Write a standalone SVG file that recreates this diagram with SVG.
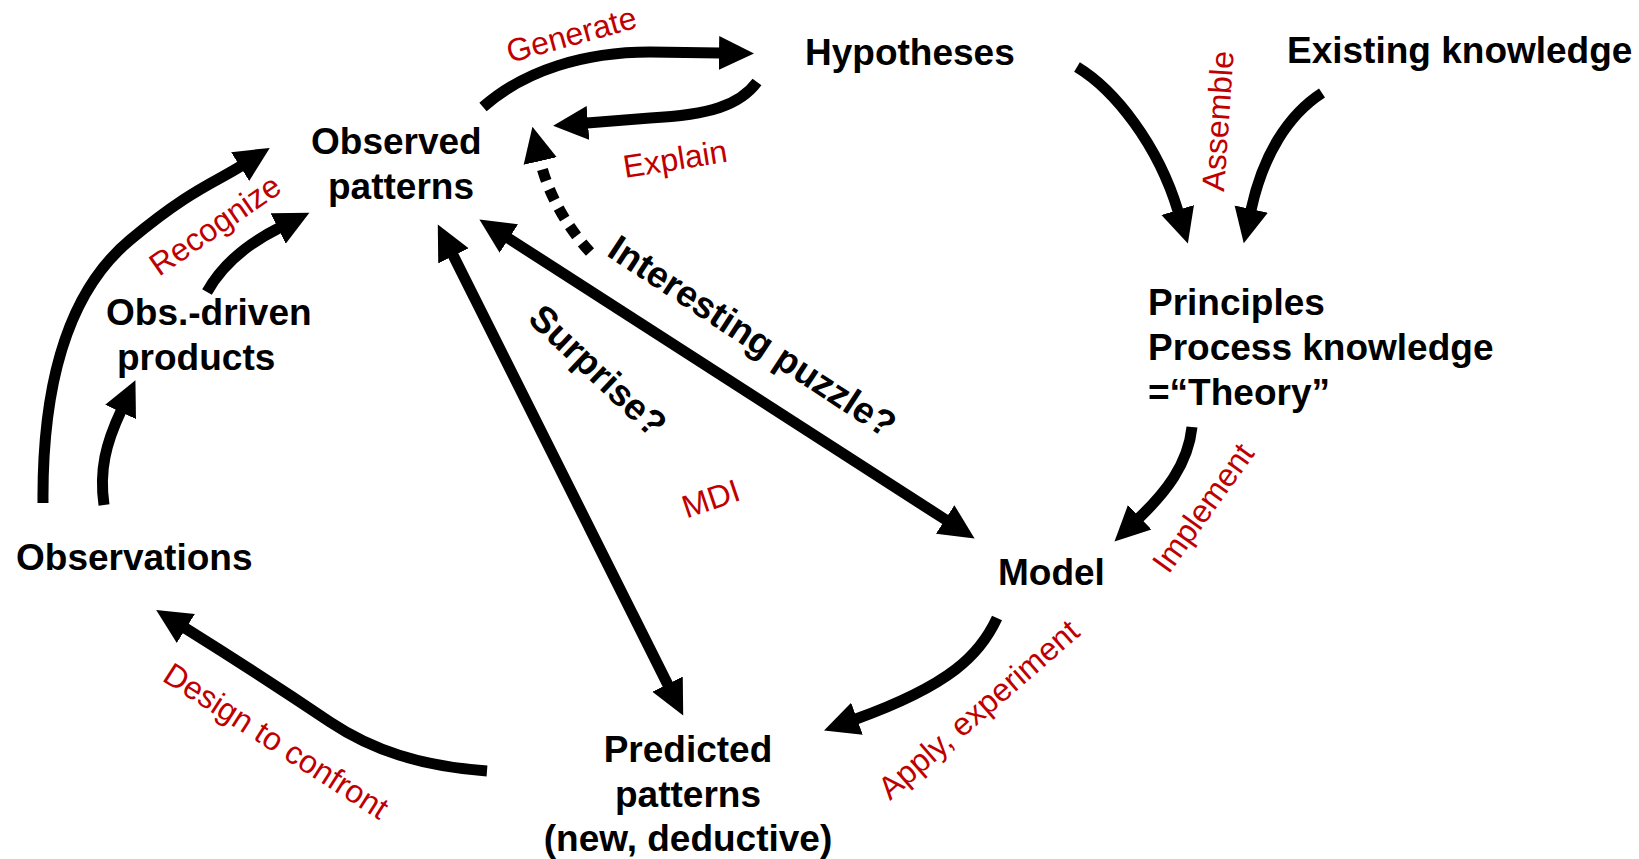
<svg xmlns="http://www.w3.org/2000/svg" width="1639" height="859" viewBox="0 0 1639 859">
  <style>
    .node { font-family: "Liberation Sans", Arial, sans-serif; font-weight: bold; font-size: 37px; fill: #000; }
    .tag { font-family: "Liberation Sans", Arial, sans-serif; font-weight: bold; font-size: 37px; fill: #000; }
    .verb { font-family: "Liberation Sans", Arial, sans-serif; font-size: 32px; fill: #C00000; }
    .link { fill: none; stroke: #000; stroke-width: 11; marker-end: url(#head); }
    .both { marker-start: url(#head); }
    .dots { stroke-dasharray: 12 9; }
  </style>
  <defs>
    <marker id="head" viewBox="0 -18 36 36" refX="1" refY="0" markerWidth="36" markerHeight="36" markerUnits="userSpaceOnUse" orient="auto-start-reverse">
      <path d="M0,-17 L35,0 L0,17 Z" fill="#000"/>
    </marker>
  </defs>
  <rect width="1639" height="859" fill="#fff"/>

  <!-- connectors -->
  <g id="connectors">
    <path class="link" d="M43,503 C42,380 70,290 130,240 S214,183 241,166"/>
    <path class="link" d="M104,505 C99,470 106,443 121,411"/>
    <path class="link" d="M207,292 C222,265 245,245 279,228"/>
    <path class="link" d="M483,107 C525,70 585,52 650,52 L720,53"/>
    <path class="link" d="M757,82 C740,105 710,115 650,118 L587,123"/>
    <path class="link dots" d="M590,252 C568,228 548,195 540,160"/>
    <path class="link both" d="M508,238 L946,520"/>
    <path class="link both" d="M453,255 L668,685"/>
    <path class="link" d="M1077,67 C1115,90 1158,145 1178,211"/>
    <path class="link" d="M1322,93 C1288,115 1263,155 1251,210"/>
    <path class="link" d="M1192,427 C1188,465 1165,493 1139,518"/>
    <path class="link" d="M997,618 C980,655 950,685 856,719"/>
    <path class="link" d="M487,771 C420,766 372,750 330,722 C290,695 225,653 185,628"/>

    <text class="verb" transform="translate(510,63) rotate(-15.5)">Generate</text>
    <text class="verb" transform="translate(625,178) rotate(-9)">Explain</text>
    <text class="verb" transform="translate(1224,192) rotate(-86)">Assemble</text>
    <text class="verb" transform="translate(159,277) rotate(-34.6)">Recognize</text>
    <text class="verb" transform="translate(1168.5,575) rotate(-54.4)">Implement</text>
    <text class="verb" transform="translate(686.6,518.5) rotate(-18.7)">MDI</text>
    <text class="verb" transform="translate(161,680) rotate(32.7)">Design to confront</text>
    <text class="verb" transform="translate(890,801) rotate(-41)">Apply, experiment</text>
    <text class="tag" transform="translate(605.4,255) rotate(33.3)">Interesting puzzle?</text>
    <text class="tag" transform="translate(526.6,320.4) rotate(43.5)">Surprise?</text>
  </g>

  <!-- nodes -->
  <g id="hypotheses"><text class="node" x="805" y="65">Hypotheses</text></g>
  <g id="existing-knowledge"><text class="node" x="1287" y="63">Existing knowledge</text></g>
  <g id="observed-patterns">
    <text class="node" x="311" y="154">Observed</text>
    <text class="node" x="328" y="199">patterns</text>
  </g>
  <g id="obs-driven-products">
    <text class="node" x="106" y="325">Obs.-driven</text>
    <text class="node" x="117" y="370">products</text>
  </g>
  <g id="observations"><text class="node" x="16" y="570">Observations</text></g>
  <g id="theory">
    <text class="node" x="1148" y="315">Principles</text>
    <text class="node" x="1148" y="360">Process knowledge</text>
    <text class="node" x="1148" y="405">=“Theory”</text>
  </g>
  <g id="model"><text class="node" x="998" y="585">Model</text></g>
  <g id="predicted-patterns">
    <text class="node" x="688" y="762" text-anchor="middle">Predicted</text>
    <text class="node" x="688" y="807" text-anchor="middle">patterns</text>
    <text class="node" x="688" y="851" text-anchor="middle">(new, deductive)</text>
  </g>
</svg>
